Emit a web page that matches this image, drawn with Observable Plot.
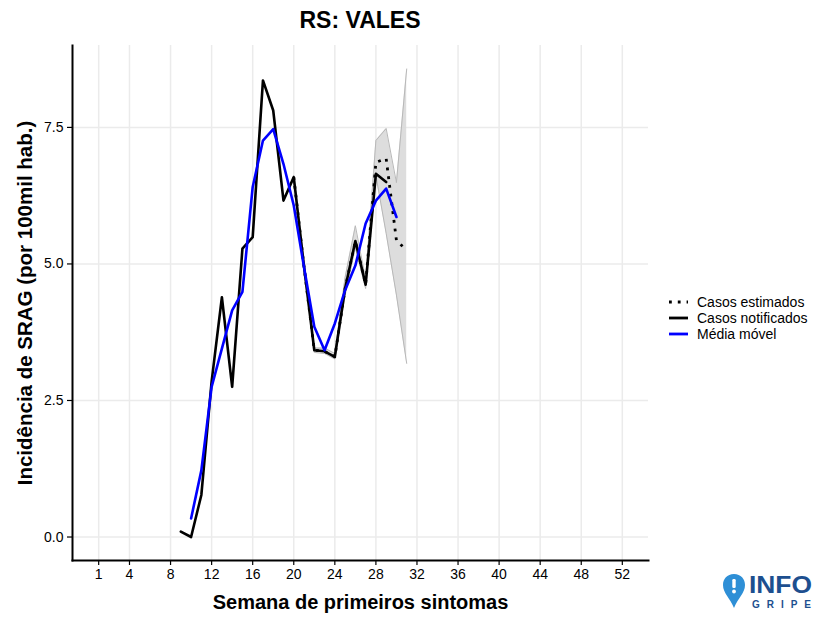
<!DOCTYPE html>
<html>
<head>
<meta charset="utf-8">
<script src="https://cdn.jsdelivr.net/npm/d3@7"></script>
<script src="https://cdn.jsdelivr.net/npm/@observablehq/plot@0.6"></script>
<style>
  html, body { margin: 0; padding: 0; background: #fff; }
  #wrap { position: relative; width: 822px; height: 617px; font-family: "Liberation Sans", Arial, sans-serif; }
  #title { position: absolute; left: 72px; width: 576px; top: 7px; text-align: center; font-size: 23px; font-weight: bold; color: #000; }
  #legend { position: absolute; left: 667px; top: 294px; font-size: 14px; color: #000; }
  .row { display: flex; align-items: center; height: 16px; }
  .row svg { margin-right: 8px; }
  #logo { position: absolute; left: 722px; top: 572px; }
</style>
</head>
<body>
<div id="wrap">
  <div id="chart"></div>
  <div id="title">RS: VALES</div>
  <div id="legend"></div>
  <div id="logo"></div>
</div>
<script>
// ---- data ----
const notifWeeks = [9,10,11,12,13,14,15,16,17,18,19,20,21,22,23,24,25,26,27,28,29];
const notifValues = [0.10,0.00,0.77,2.85,4.39,2.75,5.28,5.49,8.36,7.81,6.16,6.59,4.95,3.42,3.40,3.30,4.55,5.42,4.62,6.65,6.50];

const estWeeks = [20,21,22,23,24,25,26,27,28,29,30,31];
const estValues = [6.59,4.95,3.42,3.40,3.30,4.55,5.42,4.62,6.86,6.93,5.43,5.25];
const estLower  = [6.56,4.90,3.38,3.36,3.26,4.42,5.30,4.55,6.62,5.56,4.43,3.18];
const estUpper  = [6.62,5.02,3.46,3.46,3.36,4.75,5.70,4.72,7.26,7.48,6.49,8.57];

const mavgWeeks = [10,11,12,13,14,15,16,17,18,19,20,21,22,23,24,25,26,27,28,29,30];
const mavgValues = [0.34,1.22,2.75,3.45,4.15,4.49,6.41,7.26,7.47,6.83,6.07,4.94,3.85,3.42,3.91,4.52,4.97,5.74,6.16,6.38,5.86];

const xTicks = [1,4,8,12,16,20,24,28,32,36,40,44,48,52];
const yTicks = [0,2.5,5,7.5];
const xDomain = [-1.55, 54.55];
const yDomain = [-0.43, 9.0];

const xTitle = "Semana de primeiros sintomas";
const yTitle = "Incidência de SRAG (por 100mil hab.)";
const legendLabels = ["Casos estimados", "Casos notificados", "Média móvel"];

// ---- tables ----
const notif = notifWeeks.map((w, i) => ({w, v: notifValues[i]}));
const est = estWeeks.map((w, i) => ({w, v: estValues[i], lo: estLower[i], hi: estUpper[i]}));
const mavg = mavgWeeks.map((w, i) => ({w, v: mavgValues[i]}));

const chart = Plot.plot({
  width: 822,
  height: 617,
  marginLeft: 72,
  marginRight: 174,
  marginTop: 45,
  marginBottom: 57,
  style: { fontFamily: "Liberation Sans, Arial, sans-serif", fontSize: "14px", color: "#000", background: "#fff" },
  x: { domain: xDomain },
  y: { domain: yDomain },
  marks: [
    Plot.gridX(xTicks, { stroke: "#ebebeb", strokeOpacity: 1, strokeWidth: 1.5 }),
    Plot.gridY(yTicks, { stroke: "#ebebeb", strokeOpacity: 1, strokeWidth: 1.5 }),
    Plot.areaY(est, { x: "w", y1: "lo", y2: "hi", fill: "#d9d9d9", fillOpacity: 0.9 }),
    Plot.line(est, { x: "w", y: "lo", stroke: "#b8b8b8", strokeWidth: 1 }),
    Plot.line(est, { x: "w", y: "hi", stroke: "#b8b8b8", strokeWidth: 1 }),
    Plot.line(notif, { x: "w", y: "v", stroke: "#000", strokeWidth: 2.6 }),
    Plot.line(est, { x: "w", y: "v", stroke: "#000", strokeWidth: 2.8, strokeDasharray: "2.8,6", strokeLinecap: "butt" }),
    Plot.line(mavg, { x: "w", y: "v", stroke: "#0000ff", strokeWidth: 2.6 }),
    Plot.axisX(xTicks, { tickSize: 5, tickPadding: 4, fontSize: 14, label: null, strokeWidth: 1.2 }),
    Plot.axisY(yTicks, { tickSize: 5, tickPadding: 4, fontSize: 14, label: null, tickFormat: d3.format(".1f"), strokeWidth: 1.2 }),
    Plot.frame({ anchor: "left", stroke: "#000", strokeWidth: 2 }),
    Plot.frame({ anchor: "bottom", stroke: "#000", strokeWidth: 2 }),
    Plot.text([xTitle], { frameAnchor: "bottom", dy: 48, fontSize: 20, fontWeight: "bold", text: d => d }),
    Plot.text([yTitle], { frameAnchor: "left", dx: -47, rotate: -90, textAnchor: "middle", lineAnchor: "middle", fontSize: 20.5, fontWeight: "bold", text: d => d })
  ]
});
document.getElementById("chart").appendChild(chart);

// ---- legend ----
const legend = d3.select("#legend");
const keyStyles = [
  { stroke: "#000", dash: "2.8,6", width: 2.8 },
  { stroke: "#000", dash: null, width: 2.8 },
  { stroke: "#0000ff", dash: null, width: 2.8 }
];
legendLabels.forEach((lab, i) => {
  const row = legend.append("div").attr("class", "row");
  const s = row.append("svg").attr("width", 22).attr("height", 14);
  const ln = s.append("line").attr("x1", 2).attr("x2", 21).attr("y1", 7).attr("y2", 7)
    .attr("stroke", keyStyles[i].stroke).attr("stroke-width", keyStyles[i].width);
  if (keyStyles[i].dash) ln.attr("stroke-dasharray", keyStyles[i].dash);
  row.append("span").text(lab);
});

// ---- logo ----
const logo = d3.select("#logo").append("svg").attr("width", 96).attr("height", 42);
logo.append("path")
  .attr("d", "M12 2 C5 2 1 7 1 13 C1 21 8 26 12 36 C16 26 23 21 23 13 C23 7 19 2 12 2 Z")
  .attr("fill", "#2e8fd6");
logo.append("rect").attr("x", 10.3).attr("y", 7).attr("width", 3.4).attr("height", 9).attr("rx", 1.2).attr("fill", "#fff");
logo.append("circle").attr("cx", 12).attr("cy", 19.5).attr("r", 1.9).attr("fill", "#fff");
logo.append("text").attr("x", 27).attr("y", 21).attr("font-family", "Liberation Sans, Arial").attr("font-weight", "bold")
  .attr("font-size", 23).attr("fill", "#1d4f8f").attr("textLength", 63).attr("lengthAdjust", "spacingAndGlyphs").text("INFO");
logo.append("text").attr("x", 30).attr("y", 36).attr("font-family", "Liberation Sans, Arial").attr("font-weight", "bold")
  .attr("font-size", 10).attr("fill", "#1d4f8f").attr("textLength", 59).attr("lengthAdjust", "spacing").text("GRIPE");
</script>
</body>
</html>
